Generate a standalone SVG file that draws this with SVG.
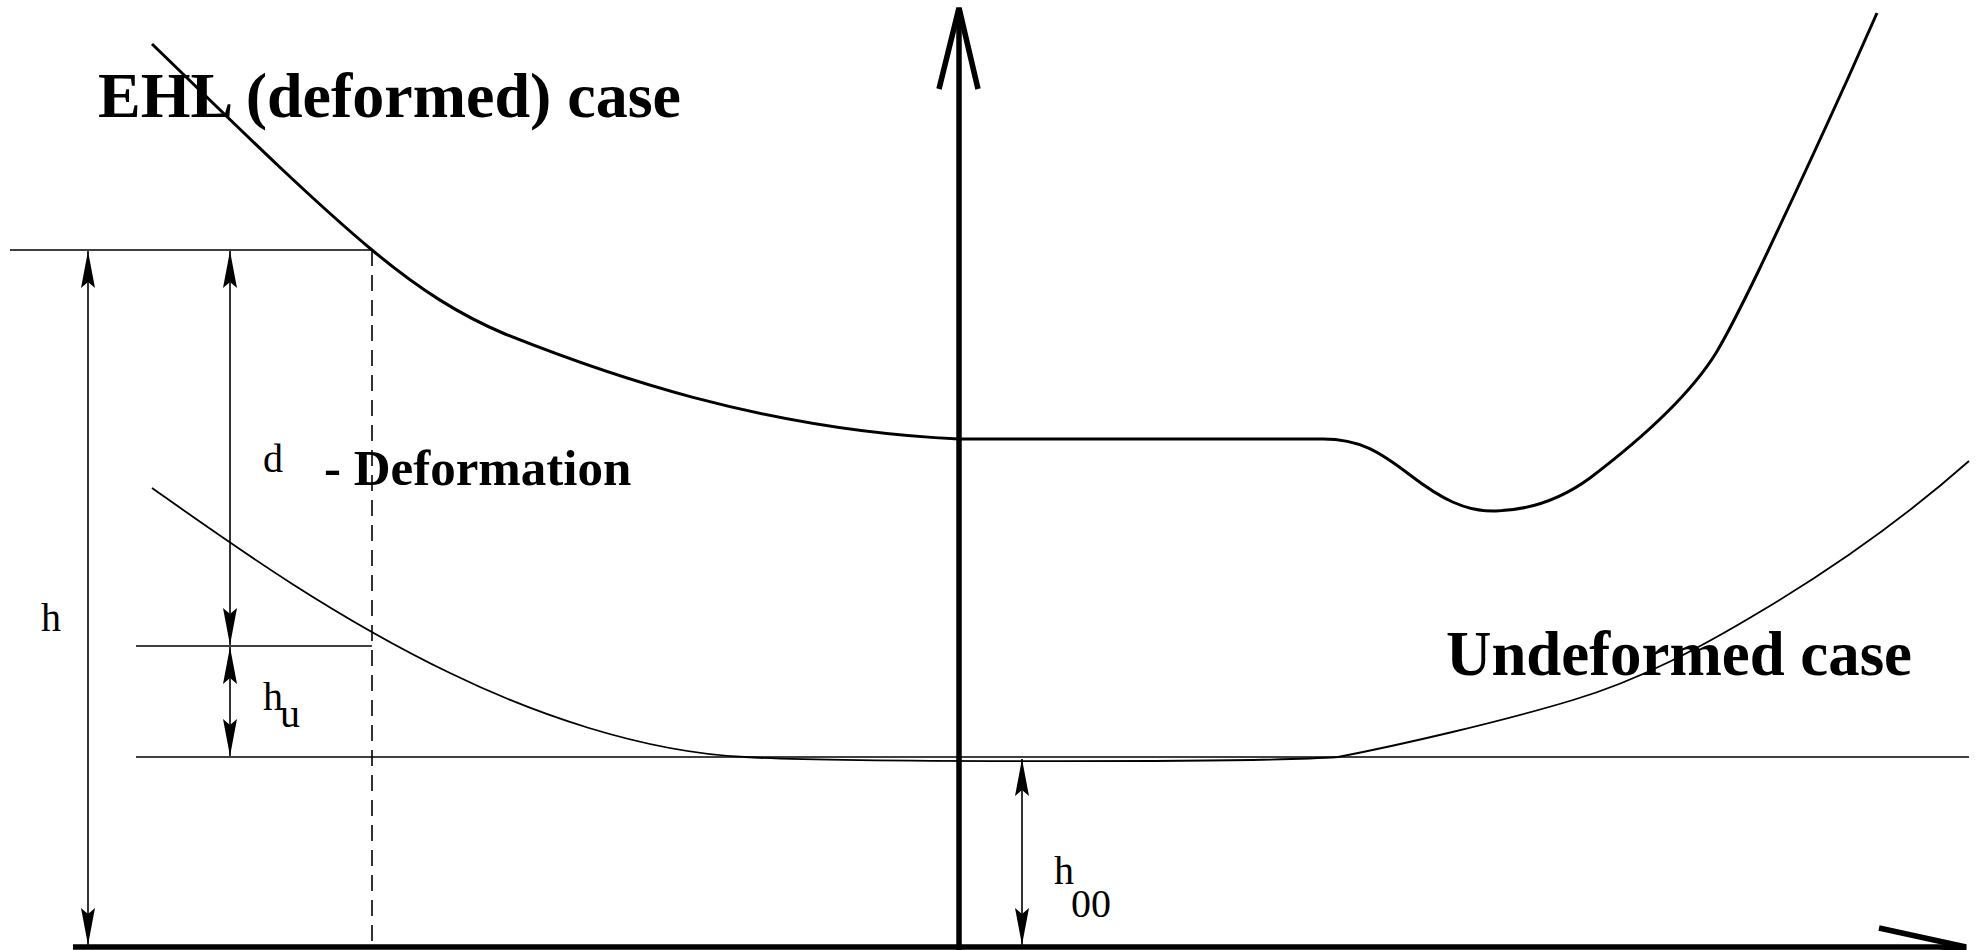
<svg xmlns="http://www.w3.org/2000/svg" width="1979" height="950" viewBox="0 0 1979 950">
<style>
.thin{fill:none;stroke:#000;stroke-width:1.6}
.dash{fill:none;stroke:#000;stroke-width:1.6;stroke-dasharray:16 9}
.curve{fill:none;stroke:#000;stroke-width:3}
.curve2{fill:none;stroke:#000;stroke-width:1.8}
.axis{fill:none;stroke:#000;stroke-width:5.5;stroke-linecap:butt}
.dim{fill:none;stroke:#000;stroke-width:1.6;marker-start:url(#ah);marker-end:url(#ah)}
.title{font-family:"Liberation Serif","Times New Roman",serif;font-weight:bold;font-size:64px;fill:#000}
.sub{font-family:"Liberation Serif","Times New Roman",serif;font-weight:bold;font-size:51px;fill:#000}
.lbl{font-family:"Liberation Serif","Times New Roman",serif;font-size:40px;fill:#000}
</style>
<defs>
<marker id="ah" markerUnits="userSpaceOnUse" viewBox="-38 -8 40 16" refX="0" refY="0" markerWidth="40" markerHeight="16" orient="auto-start-reverse">
<path d="M0,0 L-37,-7 L-31,0 L-37,7 Z" fill="#000"/>
</marker>
</defs>
<g id="axes">
<line class="axis" x1="959" y1="950" x2="959" y2="8"/>
<polyline class="axis" points="939,89 959,8 978,89" stroke-linejoin="miter"/>
<line class="axis" x1="73" y1="947" x2="1966" y2="947"/>
<polyline class="axis" points="1879,928 1966,947 1879,966"/>
</g>
<g id="guides">
<line class="thin" x1="10" y1="250" x2="372" y2="250"/>
<line class="thin" x1="136" y1="646" x2="372" y2="646"/>
<line class="thin" x1="136" y1="757" x2="1969" y2="757"/>
<line class="dash" x1="372" y1="250" x2="372" y2="947"/>
</g>
<g id="ehl-curve">
<path class="curve" d="M152,44 C200,90 300,190 372,250 C420,290 460,315 505,334 C600,372 760,430 959,439 L1323,439 C1360,439 1380,452 1410,475 C1440,498 1465,512 1496,511 C1530,510 1560,500 1590,478 C1640,440 1690,395 1716,353 C1728,333 1742,305 1758,272 C1790,205 1820,140 1849,76 L1877,13"/>
</g>
<g id="undeformed-curve">
<path class="curve2" d="M152,488 C230,543 330,615 450,673 C530,712 640,752 745,757 C820,762 1250,763 1338,757 C1400,745 1500,722 1573,700 C1640,680 1700,648 1763,610 C1830,570 1900,522 1969,461"/>
</g>
<g id="connectors">
<line class="dim" x1="88" y1="251" x2="88" y2="945"/>
<line class="dim" x1="230" y1="251" x2="230" y2="645"/>
<line class="dim" x1="230" y1="647" x2="230" y2="756"/>
<line class="dim" x1="1022" y1="759" x2="1022" y2="945"/>
</g>
<g id="labels">
<text class="title" x="98" y="117">EHL (deformed) case</text>
<text class="title" x="1446" y="675" textLength="466" lengthAdjust="spacingAndGlyphs">Undeformed case</text>
<text class="sub" x="324" y="485">- Deformation</text>
<text class="lbl" x="41" y="631">h</text>
<text class="lbl" x="263" y="472">d</text>
<text class="lbl" x="263" y="710">h</text>
<text class="lbl" x="280" y="727">u</text>
<text class="lbl" x="1054" y="884">h</text>
<text class="lbl" x="1071" y="917">00</text>
</g>
</svg>
